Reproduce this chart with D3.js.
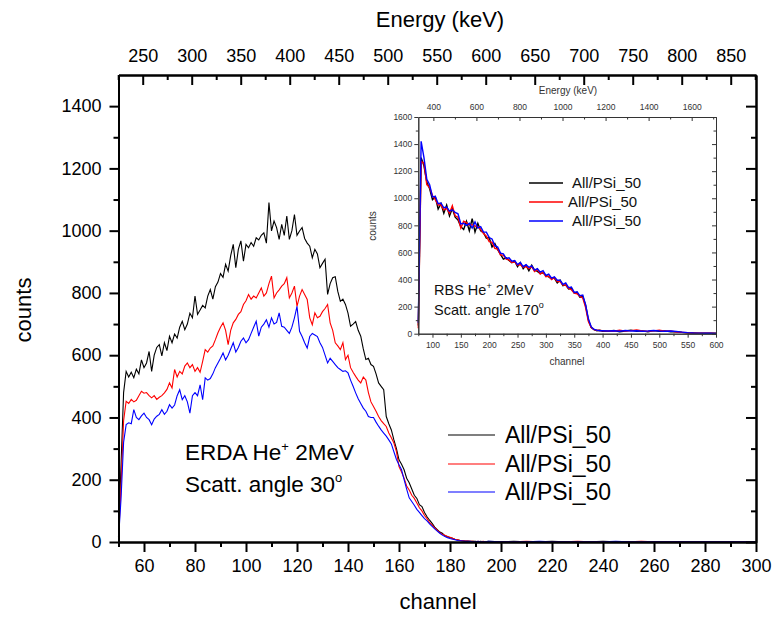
<!DOCTYPE html>
<html>
<head>
<meta charset="utf-8">
<script src="https://cdn.jsdelivr.net/npm/d3@7"></script>
<style>
  body { margin: 0; background: #fff; }
  svg { display: block; }
  text { font-family: "Liberation Sans", Arial, sans-serif; }
</style>
</head>
<body>
<svg id="chart" width="774" height="618"></svg>
<script>
// ---- data ----
const seriesNames = ["All/PSi_50", "All/PSi_50", "All/PSi_50"];
const seriesColors = ["#000000", "#ff0000", "#0000ff"];

// main ERDA spectrum: one value per channel 50..195, then every 5 channels 200..300
const mainChannels = d3.range(50, 196).concat(d3.range(200, 301, 5));
const mainBlack = [
  15, 250, 480, 548, 530, 545, 528, 555, 540, 585,
  560, 575, 612, 548, 600, 625, 634, 598, 640, 615,
  661, 640, 668, 655, 690, 709, 682, 700, 735, 720,
  790, 731, 745, 760, 752, 790, 811, 780, 820, 835,
  862, 850, 892, 870, 920, 956, 881, 940, 967, 902,
  956, 945, 962, 950, 977, 970, 985, 993, 960, 1090,
  999, 1031, 1010, 972, 1020, 985, 1047, 972, 1000, 1052,
  985, 999, 1010, 975, 960, 950, 913, 940, 925, 881,
  895, 908, 795, 830, 849, 852, 805, 773, 780, 763,
  735, 693, 700, 708, 680, 661, 620, 586, 590, 570,
  564, 540, 511, 500, 489, 403, 380, 360, 328, 300,
  264, 250, 232, 205, 190, 170, 150, 140, 120, 114,
  95, 81, 70, 60, 48, 40, 32, 28, 20, 18,
  14, 12, 8, 7, 5, 4, 3, 3, 2, 2,
  2, 1, 2, 1, 1, 2,
  1, 2, 1, 1, 2, 1, 1, 1, 2, 1, 1, 1, 1, 1, 1, 1, 1, 1, 1, 1, 1
];
const mainRed = [
  10, 180, 390, 452, 445, 458, 450, 455, 470, 484,
  478, 480, 470, 463, 470, 458, 465, 470, 479, 490,
  511, 495, 554, 530, 548, 540, 565, 575, 560, 570,
  548, 560, 545, 580, 618, 610, 623, 630, 650, 672,
  690, 704, 680, 634, 680, 704, 715, 731, 740, 763,
  775, 795, 780, 790, 784, 800, 816, 790, 800, 830,
  854, 784, 800, 810, 822, 830, 849, 784, 800, 822,
  757, 790, 811, 795, 779, 720, 698, 736, 720, 725,
  740, 750, 763, 704, 680, 640, 630, 618, 640, 586,
  600, 560, 545, 532, 520, 511, 530, 520, 480, 450,
  435, 420, 403, 390, 380, 371, 350, 335, 318, 290,
  242, 225, 205, 180, 167, 150, 140, 125, 110, 100,
  85, 75, 62, 55, 45, 38, 30, 25, 22, 18,
  15, 12, 9, 7, 5, 4, 3, 3, 2, 2,
  1, 2, 1, 2, 1, 1,
  1, 1, 2, 1, 1, 1, 2, 1, 1, 1, 1, 2, 1, 1, 1, 1, 1, 1, 1, 1, 1
];
const mainBlue = [
  8, 140, 320, 377, 383, 380, 425, 400, 393, 405,
  414, 400, 393, 377, 395, 404, 410, 425, 410, 420,
  441, 430, 440, 470, 489, 457, 470, 450, 414, 470,
  480, 470, 505, 457, 527, 520, 525, 540, 560, 575,
  590, 607, 585, 600, 620, 640, 610, 625, 645, 655,
  640, 650, 670, 690, 709, 661, 690, 700, 714, 690,
  720, 700, 705, 736, 693, 690, 680, 670, 690, 720,
  757, 677, 660, 640, 623, 660, 670, 665, 660, 640,
  625, 600, 575, 590, 580, 570, 560, 554, 548, 550,
  543, 520, 500, 479, 460, 445, 430, 420, 403, 400,
  400, 385, 372, 360, 350, 340, 328, 315, 290, 265,
  248, 232, 200, 170, 142, 130, 118, 105, 95, 85,
  75, 68, 58, 50, 42, 35, 28, 22, 18, 14,
  11, 9, 7, 5, 4, 3, 2, 2, 2, 1,
  1, 2, 1, 1, 1, 2,
  1, 1, 1, 2, 1, 1, 1, 1, 1, 2, 1, 1, 1, 1, 1, 1, 1, 1, 1, 1, 1
];

// inset RBS spectrum: every 5 channels 75..400, then every 10 channels 410..600
const insetChannels = d3.range(75, 401, 5).concat(d3.range(410, 601, 10));
const insetBlack = [
  60, 1300, 1240, 1120, 1070, 990, 1010, 920, 960, 890,
  950, 870, 925, 860, 840, 790, 770, 830, 760, 850,
  750, 815, 760, 745, 705, 710, 640, 665, 620, 585,
  550, 560, 540, 525, 535, 495, 525, 480, 505, 465,
  505, 470, 460, 445, 450, 430, 420, 405, 410, 375,
  395, 355, 360, 330, 335, 300, 305, 270, 275, 210,
  100, 45, 30, 22, 25, 18,
  18, 24, 14, 20, 26, 17, 21, 15, 23, 18, 21, 14, 15, 10, 6, 5, 4, 4, 3, 3
];
const insetRed = [
  40, 1270, 1260, 1100, 1080, 1020, 990, 950, 950, 915,
  925, 890, 945, 870, 860, 780, 830, 820, 800, 805,
  795, 790, 770, 740, 720, 680, 675, 630, 625, 580,
  580, 550, 545, 525, 530, 505, 510, 490, 495, 480,
  495, 460, 475, 440, 455, 420, 425, 400, 415, 385,
  385, 360, 360, 335, 325, 300, 295, 275, 265, 195,
  90, 45, 30, 25, 24, 22,
  20, 18, 26, 19, 23, 28, 20, 17, 21, 26, 18, 21, 13, 10, 7, 5, 4, 3, 3, 2
];
const insetBlue = [
  80, 1420, 1300, 1140, 1100, 1010, 1015, 960, 965, 930,
  935, 905, 915, 895, 885, 810, 815, 800, 815, 780,
  825, 780, 790, 750, 750, 710, 700, 650, 640, 595,
  590, 555, 560, 535, 540, 510, 525, 495, 510, 490,
  500, 470, 480, 455, 465, 430, 440, 410, 420, 395,
  395, 365, 375, 340, 345, 305, 310, 280, 285, 215,
  110, 50, 32, 26, 22, 22,
  20, 22, 18, 24, 20, 22, 18, 20, 24, 20, 18, 20, 16, 12, 8, 5, 4, 3, 3, 2
];

// ticks
const mainXTicks = d3.range(60, 301, 20);
const mainXMinor = d3.range(50, 301, 10).filter(v => v % 20 !== 0);
const mainYTicks = d3.range(0, 1401, 200);
const mainYMinor = d3.range(100, 1400, 200);
const mainETicks = d3.range(250, 851, 50);
const mainEMinor = d3.range(225, 876, 50);
const insetXTicks = d3.range(100, 601, 50);
const insetXMinor = d3.range(75, 600, 50);
const insetYTicks = d3.range(0, 1601, 200);
const insetYMinor = d3.range(100, 1600, 200);
const insetETicks = d3.range(400, 1601, 200);
const insetEMinor = d3.range(500, 1701, 200);

// ---- drawing ----
const svg = d3.select("#chart");
const FONT = '"Liberation Sans", Arial, sans-serif';
const fmt = d3.format("d");

const x = d3.scaleLinear().domain([50, 300]).range([118.5, 756]);
const y = d3.scaleLinear().domain([0, 1500]).range([542, 75]);
const e = d3.scaleLinear().domain([225.3, 875.8]).range([118.5, 756]);

function styleAxis(g, size, color, width) {
  g.attr("font-family", FONT).attr("font-size", size);
  g.select(".domain").attr("stroke", color).attr("stroke-width", width);
  g.selectAll(".tick line").attr("stroke", color).attr("stroke-width", width);
  g.selectAll(".tick text").attr("fill", color);
}

const mainSeries = [mainBlack, mainRed, mainBlue];
const line = d3.line().x(d => x(d[0])).y(d => y(d[1]));
svg.append("g").selectAll("path")
  .data(mainSeries)
  .join("path")
  .attr("d", s => line(mainChannels.map((c, i) => [c, s[i]])))
  .attr("fill", "none")
  .attr("stroke", (d, i) => seriesColors[i])
  .attr("stroke-width", 1.1);

// main axes
const axB = svg.append("g").attr("transform", `translate(0,${y(0)})`)
  .call(d3.axisBottom(x).tickValues(mainXTicks).tickFormat(fmt).tickSize(10).tickPadding(7).tickSizeOuter(0));
styleAxis(axB, 18, "#000", 2);
const axBm = svg.append("g").attr("transform", `translate(0,${y(0)})`)
  .call(d3.axisBottom(x).tickValues(mainXMinor).tickSize(5).tickFormat("").tickSizeOuter(0));
styleAxis(axBm, 18, "#000", 2);

const axL = svg.append("g").attr("transform", `translate(${x(50)},0)`)
  .call(d3.axisLeft(y).tickValues(mainYTicks).tickFormat(fmt).tickSize(9).tickPadding(8).tickSizeOuter(0));
styleAxis(axL, 18, "#000", 2);
const axLm = svg.append("g").attr("transform", `translate(${x(50)},0)`)
  .call(d3.axisLeft(y).tickValues(mainYMinor).tickSize(5).tickFormat("").tickSizeOuter(0));
styleAxis(axLm, 18, "#000", 2);

const axT = svg.append("g").attr("transform", `translate(0,${y(1500)})`)
  .call(d3.axisTop(e).tickValues(mainETicks).tickFormat(fmt).tickSize(-10).tickPadding(13).tickSizeOuter(0));
styleAxis(axT, 18, "#000", 2);
const axTm = svg.append("g").attr("transform", `translate(0,${y(1500)})`)
  .call(d3.axisTop(e).tickValues(mainEMinor).tickSize(-5).tickFormat("").tickSizeOuter(0));
styleAxis(axTm, 18, "#000", 2);

const axR = svg.append("g").attr("transform", `translate(${x(300)},0)`)
  .call(d3.axisRight(y).tickValues(mainYTicks).tickSize(-10).tickFormat("").tickSizeOuter(0));
styleAxis(axR, 18, "#000", 2);
const axRm = svg.append("g").attr("transform", `translate(${x(300)},0)`)
  .call(d3.axisRight(y).tickValues(mainYMinor).tickSize(-5).tickFormat("").tickSizeOuter(0));
styleAxis(axRm, 18, "#000", 2);

// main axis titles
svg.append("text").attr("x", 440).attr("y", 27).attr("text-anchor", "middle")
  .attr("font-size", 22).text("Energy (keV)");
svg.append("text").attr("x", 438).attr("y", 609).attr("text-anchor", "middle")
  .attr("font-size", 22).text("channel");
svg.append("text").attr("transform", "translate(31,310) rotate(-90)").attr("text-anchor", "middle")
  .attr("font-size", 22).text("counts");

// main annotation
const erda = svg.append("text").attr("x", 185).attr("y", 460).attr("font-size", 22.5);
erda.append("tspan").text("ERDA He");
erda.append("tspan").attr("dy", -9).attr("font-size", 13).text("+");
erda.append("tspan").attr("dy", 9).text(" 2MeV");
const ang = svg.append("text").attr("x", 185).attr("y", 492).attr("font-size", 22.5);
ang.append("tspan").text("Scatt. angle 30");
ang.append("tspan").attr("dy", -10).attr("font-size", 13).text("o");

// main legend
const legY = [435, 464, 492];
const leg = svg.append("g").selectAll("g").data(seriesNames).join("g")
  .attr("transform", (d, i) => `translate(448,${legY[i]})`);
leg.append("line").attr("x1", 0).attr("x2", 47)
  .attr("stroke", (d, i) => seriesColors[i]).attr("stroke-width", 1.2);
leg.append("text").attr("x", 57).attr("dy", "0.35em").attr("font-size", 23).text(d => d);

// ---- inset ----
const ix = d3.scaleLinear().domain([75, 600]).range([418.3, 716]);
const iy = d3.scaleLinear().domain([0, 1600]).range([333.7, 117]);
const ie = d3.scaleLinear().domain([330, 1713]).range([418.3, 716]);
const IC = "#333";

const insetSeries = [insetBlack, insetRed, insetBlue];
const iline = d3.line().x(d => ix(d[0])).y(d => iy(d[1]));
svg.append("g").selectAll("path")
  .data(insetSeries)
  .join("path")
  .attr("d", s => iline(insetChannels.map((c, i) => [c, s[i]])))
  .attr("fill", "none")
  .attr("stroke", (d, i) => seriesColors[i])
  .attr("stroke-width", 1.4);

const ib = svg.append("g").attr("transform", `translate(0,${iy(0)})`)
  .call(d3.axisBottom(ix).tickValues(insetXTicks).tickFormat(fmt).tickSize(4).tickPadding(4).tickSizeOuter(0));
styleAxis(ib, 8.5, IC, 1);
const ibm = svg.append("g").attr("transform", `translate(0,${iy(0)})`)
  .call(d3.axisBottom(ix).tickValues(insetXMinor).tickSize(2.5).tickFormat("").tickSizeOuter(0));
styleAxis(ibm, 8.5, IC, 1);
const il = svg.append("g").attr("transform", `translate(${ix(75)},0)`)
  .call(d3.axisLeft(iy).tickValues(insetYTicks).tickFormat(fmt).tickSize(4).tickPadding(2).tickSizeOuter(0));
styleAxis(il, 8.5, IC, 1);
const ilm = svg.append("g").attr("transform", `translate(${ix(75)},0)`)
  .call(d3.axisLeft(iy).tickValues(insetYMinor).tickSize(2.5).tickFormat("").tickSizeOuter(0));
styleAxis(ilm, 8.5, IC, 1);
const it = svg.append("g").attr("transform", `translate(0,${iy(1600)})`)
  .call(d3.axisTop(ie).tickValues(insetETicks).tickFormat(fmt).tickSize(-4).tickPadding(7).tickSizeOuter(0));
styleAxis(it, 8.5, IC, 1);
const itm = svg.append("g").attr("transform", `translate(0,${iy(1600)})`)
  .call(d3.axisTop(ie).tickValues(insetEMinor).tickSize(-2.5).tickFormat("").tickSizeOuter(0));
styleAxis(itm, 8.5, IC, 1);
const ir = svg.append("g").attr("transform", `translate(${ix(600)},0)`)
  .call(d3.axisRight(iy).tickValues(insetYTicks).tickSize(-4).tickFormat("").tickSizeOuter(0));
styleAxis(ir, 8.5, IC, 1);
const irm = svg.append("g").attr("transform", `translate(${ix(600)},0)`)
  .call(d3.axisRight(iy).tickValues(insetYMinor).tickSize(-2.5).tickFormat("").tickSizeOuter(0));
styleAxis(irm, 8.5, IC, 1);

svg.append("text").attr("x", 568).attr("y", 93.5).attr("text-anchor", "middle")
  .attr("font-size", 10).attr("fill", IC).text("Energy (keV)");
svg.append("text").attr("x", 567).attr("y", 365).attr("text-anchor", "middle")
  .attr("font-size", 10).attr("fill", IC).text("channel");
svg.append("text").attr("transform", "translate(376,226) rotate(-90)").attr("text-anchor", "middle")
  .attr("font-size", 10).attr("fill", IC).text("counts");

const rbs = svg.append("text").attr("x", 434).attr("y", 295).attr("font-size", 14.5).attr("fill", "#111");
rbs.append("tspan").text("RBS He");
rbs.append("tspan").attr("dy", -6).attr("font-size", 9).text("+");
rbs.append("tspan").attr("dy", 6).text(" 2MeV");
const rang = svg.append("text").attr("x", 434).attr("y", 315).attr("font-size", 14.5).attr("fill", "#111");
rang.append("tspan").text("Scatt. angle 170");
rang.append("tspan").attr("dy", -7).attr("font-size", 9).text("o");

const ileg = svg.append("g").selectAll("g").data(seriesNames).join("g")
  .attr("transform", (d, i) => `translate(529,${183 + i * 19})`);
ileg.append("line").attr("x1", 0).attr("x2", 34)
  .attr("stroke", (d, i) => seriesColors[i]).attr("stroke-width", 1.3);
ileg.append("text").attr("x", (d, i) => [43, 39, 43][i]).attr("dy", "0.35em")
  .attr("font-size", 15).attr("fill", "#111").text(d => d);
</script>
</body>
</html>
